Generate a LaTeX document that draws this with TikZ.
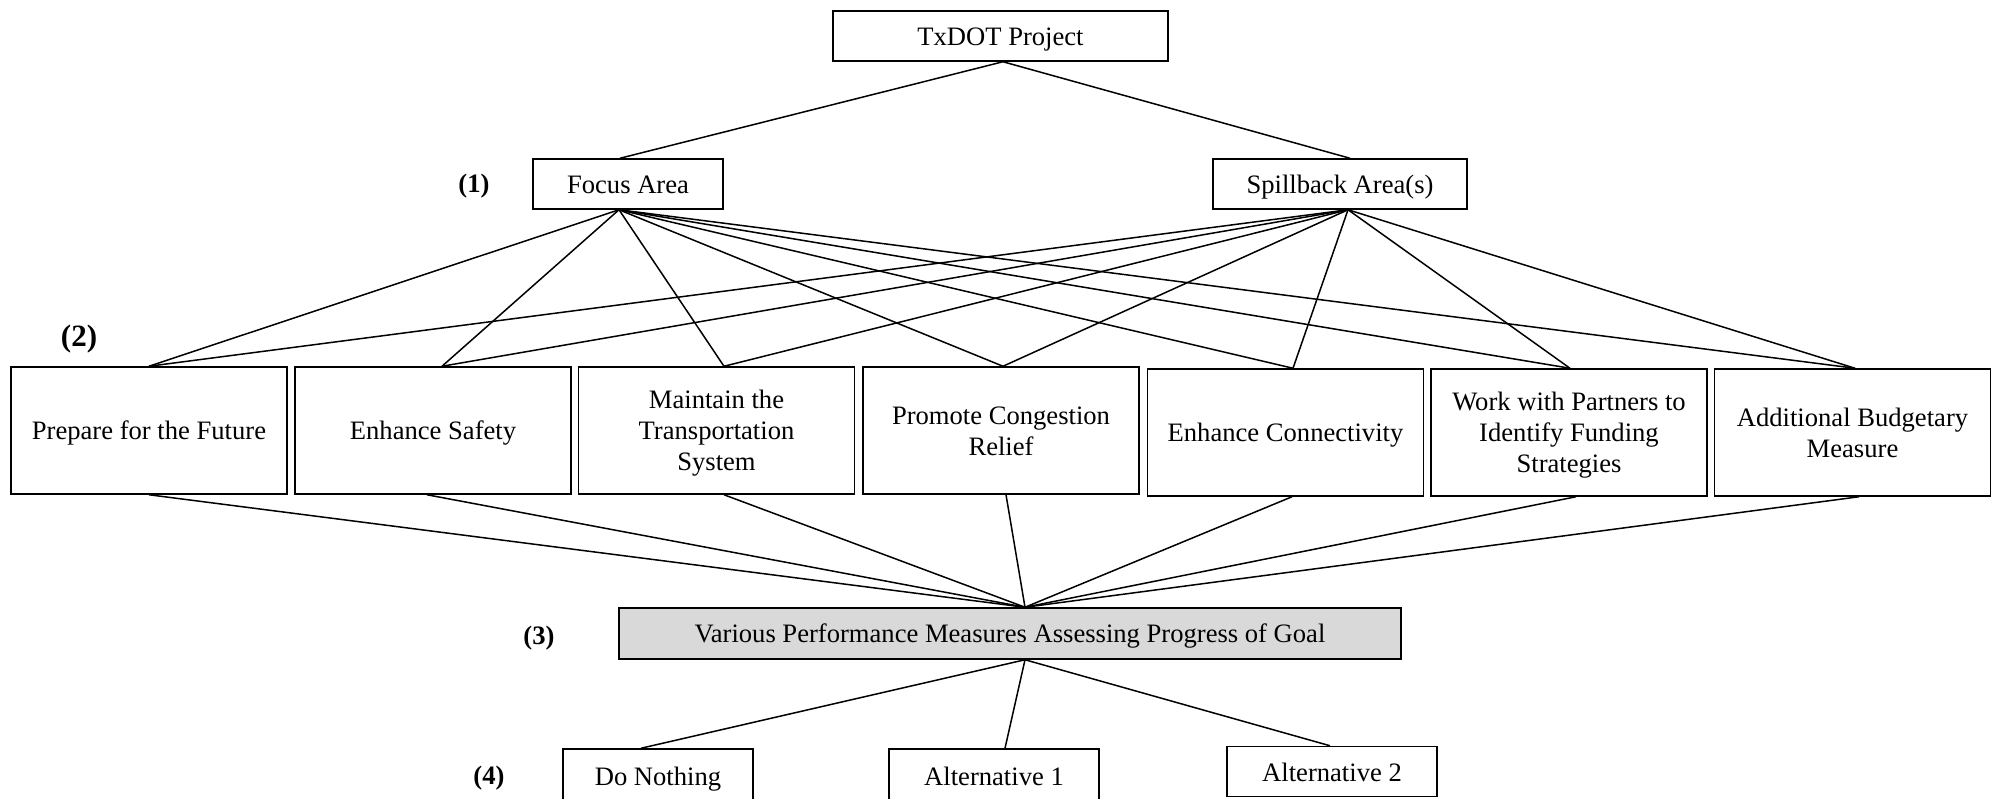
\documentclass[tikz,border=0pt]{standalone}
\usepackage{fontspec}
\setmainfont{Liberation Serif}
\newcommand{\mainsz}{\fontsize{13.3pt}{15.5pt}\selectfont}
\newcommand{\lblsz}{\fontsize{13.3pt}{15.5pt}\selectfont\bfseries}
\newcommand{\biglblsz}{\fontsize{15.5pt}{17pt}\selectfont\bfseries}
\newcommand{\st}{\rule[-2.5pt]{0pt}{14.8pt}}
\begin{document}
\begin{tikzpicture}[x=0.5pt,y=-0.5pt,
  mybox/.style={draw, line width=0.75pt, inner sep=0pt, align=center, font=\mainsz, fill=white},
  topbox/.style={mybox, minimum height=25pt},
  goalbox/.style={mybox, minimum width=138pt, minimum height=63.5pt},
  lbl/.style={inner sep=0pt, font=\lblsz},
  conn/.style={line width=0.75pt}]
\useasboundingbox (0,0) rectangle (1992,798);
% nodes
\node[topbox, minimum width=167.5pt] (tx) at (1000.5,36) {\st TxDOT Project};
\node[topbox, minimum width=95pt] (fa) at (628,184) {\st Focus Area};
\node[topbox, minimum width=127pt] (sa) at (1340,184) {\st Spillback Area(s)};
\node[goalbox] (g1) at (149,430.5) {\st Prepare for the Future};
\node[goalbox] (g2) at (433,430.5) {\st Enhance Safety};
\node[goalbox] (g3) at (716.5,430.5) {\st Maintain the\\\st Transportation\\\st System};
\node[goalbox] (g4) at (1001,430.5) {\st Promote Congestion\\\st Relief};
\node[goalbox] (g5) at (1285.5,432.5) {\st Enhance Connectivity};
\node[goalbox] (g6) at (1569,432.5) {\st Work with Partners to\\\st Identify Funding\\\st Strategies};
\node[goalbox] (g7) at (1852.5,432.5) {\st Additional Budgetary\\\st Measure};
\node[mybox, fill=black!15, minimum width=391pt, minimum height=25.5pt] (pm) at (1010,633.5) {\st Various Performance Measures Assessing Progress of Goal};
\node[topbox, minimum width=95pt, minimum height=27pt] (dn) at (658,776) {\st Do Nothing};
\node[topbox, minimum width=105pt, minimum height=27pt] (a1) at (994,776) {\st Alternative 1};
\node[topbox, minimum width=105pt] (a2) at (1332,771.5) {\st Alternative 2};
% labels
\node[lbl] (l1) at (474,186) {(1)};
\node[inner sep=0pt, font=\biglblsz] (l2) at (79,339.5) {(2)};
\node[lbl] (l3) at (539,638) {(3)};
\node[lbl] (l4) at (489,778) {(4)};
% anchor coordinates
\coordinate (txb) at ([xshift=1.25pt]tx.south);
\coordinate (fat) at ([xshift=-4pt]fa.north);
\coordinate (fab) at ([xshift=-4.5pt]fa.south);
\coordinate (sat) at ([xshift=5pt]sa.north);
\coordinate (sab) at ([xshift=4pt]sa.south);
\coordinate (g1t) at (g1.north);
\coordinate (g2t) at ([xshift=4.5pt]g2.north);
\coordinate (g3t) at ([xshift=3.75pt]g3.north);
\coordinate (g4t) at ([xshift=1pt]g4.north);
\coordinate (g5t) at ([xshift=3.75pt]g5.north);
\coordinate (g6t) at ([xshift=0.5pt]g6.north);
\coordinate (g7t) at ([xshift=1.25pt]g7.north);
\coordinate (g1b) at (g1.south);
\coordinate (g2b) at ([xshift=-3pt]g2.south);
\coordinate (g3b) at ([xshift=3.75pt]g3.south);
\coordinate (g4b) at ([xshift=2.5pt]g4.south);
\coordinate (g5b) at ([xshift=3.25pt]g5.south);
\coordinate (g6b) at ([xshift=3.5pt]g6.south);
\coordinate (g7b) at ([xshift=3.25pt]g7.south);
\coordinate (pmt) at ([xshift=7.5pt]pm.north);
\coordinate (pmb) at ([xshift=7.5pt]pm.south);
\coordinate (dnt) at ([xshift=-8.5pt]dn.north);
\coordinate (a1t) at ([xshift=5.5pt]a1.north);
\coordinate (a2t) at ([xshift=-1pt]a2.north);
% connectors
\draw[conn] (fat) -- (txb) -- (sat);
\foreach \g in {g1t,g2t,g3t,g4t,g5t,g6t,g7t}{
  \draw[conn] (fab) -- (\g);
  \draw[conn] (sab) -- (\g);
}
\foreach \g in {g1b,g2b,g3b,g4b,g5b,g6b,g7b}{
  \draw[conn] (\g) -- (pmt);
}
\draw[conn] (pmb) -- (dnt);
\draw[conn] (pmb) -- (a1t);
\draw[conn] (pmb) -- (a2t);
\end{tikzpicture}
\end{document}
